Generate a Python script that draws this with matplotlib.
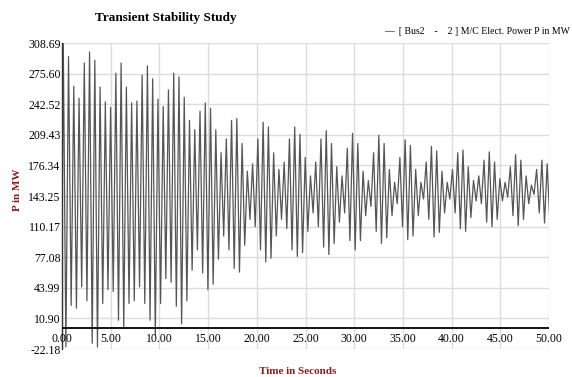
import numpy as np
import matplotlib
matplotlib.use("Agg")
from matplotlib import pyplot as plt

# peak / trough values per swing (MW)
peak_t = [0.13, 0.67, 1.21, 1.75, 2.29, 2.83, 3.37, 3.91, 4.45, 4.99, 5.53, 6.07, 6.61, 7.15, 7.69,
          8.23, 8.77, 9.31, 9.85, 10.39, 10.93, 11.47, 12.01, 12.55, 13.09, 13.63, 14.17, 14.71, 15.25,
          15.79, 16.33, 16.87, 17.41, 17.95, 18.49, 19.03, 19.57, 20.11, 20.65, 21.19, 21.73, 22.27,
          22.81, 23.35, 23.89, 24.43, 24.97, 25.51, 26.05, 26.59, 27.13, 27.67, 28.21, 28.75, 29.29,
          29.83, 30.37, 30.91, 31.45, 31.99, 32.53, 33.07, 33.61, 34.15, 34.69, 35.23, 35.77, 36.31,
          36.85, 37.39, 37.93, 38.47, 39.01, 39.55, 40.09, 40.63, 41.17, 41.71, 42.25, 42.79, 43.33,
          43.87, 44.41, 44.95, 45.49, 46.03, 46.57, 47.11, 47.65, 48.19, 48.73, 49.27, 49.81]
peaks = [308, 294, 262, 249, 287, 299, 290, 261, 245, 239, 276, 287, 261, 244, 246,
         274, 284, 270, 248, 240, 258, 276, 272, 250, 225, 215, 235, 244, 238,
         215, 190, 205, 225, 227, 200, 170, 178, 205, 223, 218, 190, 172,
         180, 205, 218, 210, 185, 165, 180, 205, 214, 200, 175, 165, 195,
         211, 200, 170, 160, 190, 209, 200, 172, 158, 185, 204, 198, 172,
         158, 180, 197, 192, 170, 158, 172, 190, 193, 175, 160, 165, 182,
         191, 180, 162, 158, 175, 188, 182, 165, 155, 172, 182, 178]
troughs = [-20, 25, 22, 45, 30, -16, -20, 27, 42, 40, 9, 0, 27, 30, 45,
           27, 9, -8, 27, 54, 50, 24, 5, 30, 63, 85, 60, 42, 48,
           75, 100, 85, 65, 61, 90, 118, 110, 85, 72, 76, 100, 118,
           108, 85, 78, 82, 105, 125, 110, 88, 80, 92, 115, 125, 95,
           85, 95, 122, 132, 105, 92, 98, 122, 135, 110, 96, 100, 122,
           140, 118, 99, 104, 125, 140, 125, 108, 105, 120, 138, 135, 115,
           110, 118, 138, 142, 122, 111, 118, 135, 145, 125, 114, 118]
p_start = 95

yticks = [308.69, 275.60, 242.52, 209.43, 176.34, 143.25, 110.17, 77.08, 43.99, 10.90, -22.18]
xticks = [0, 5, 10, 15, 20, 25, 30, 35, 40, 45, 50]

# build the swing curve: start value, then peak, trough, peak, ...
t = [0.0]
p = [p_start]
half = 0.27
for tp, pk, tr in zip(peak_t, peaks, troughs):
    t += [tp, tp + half]
    p += [pk, tr]

plt.rcParams['font.family'] = ['Liberation Serif', 'DejaVu Serif']
fig = plt.figure(figsize=(5.72, 3.77), dpi=100)
ax = fig.add_axes([62 / 572, 1 - 349 / 377, 487 / 572, 306 / 377])

for v in yticks:
    ax.axhline(v, color='#dcdcdc', lw=1, zorder=0)
for v in xticks:
    ax.axvline(v, color='#dcdcdc', lw=1, zorder=0)
ax.axhline(0, color='black', lw=1.3, zorder=3)

ax.plot(t, p, color='#555555', lw=0.9, zorder=2)

ax.set_xlim(0, 50)
ax.set_ylim(-22.18, 308.69)
ax.set_yticks(yticks)
ax.set_yticklabels(['%.2f' % v for v in yticks], fontsize=8.5)
ax.set_xticks([])
ax.tick_params(axis='y', length=0, pad=1)
for v in xticks:
    ax.text(v, -11, '%.2f' % v, ha='center', va='center', fontsize=8.5)
for s in ['top', 'right', 'bottom']:
    ax.spines[s].set_visible(False)
ax.spines['left'].set_color('#333333')
ax.spines['left'].set_linewidth(1)

fig.text(166 / 572, 1 - 18 / 377, 'Transient Stability Study', ha='center', va='center',
         fontsize=9.5, fontweight='bold')
fig.text(570 / 572, 1 - 32 / 377, '\u2014  [ Bus2    -    2 ] M/C Elect. Power P in MW',
         ha='right', va='center', fontsize=7, color='black')
fig.text(298 / 572, 1 - 372 / 377, 'Time in Seconds', ha='center', va='center',
         fontsize=8, fontweight='bold', color='#8b1c1c')
fig.text(17 / 572, 1 - 190 / 377, 'P in MW', ha='center', va='center', rotation=90,
         fontsize=8, fontweight='bold', color='#8b1c1c')

fig.savefig('out.png', dpi=100)
